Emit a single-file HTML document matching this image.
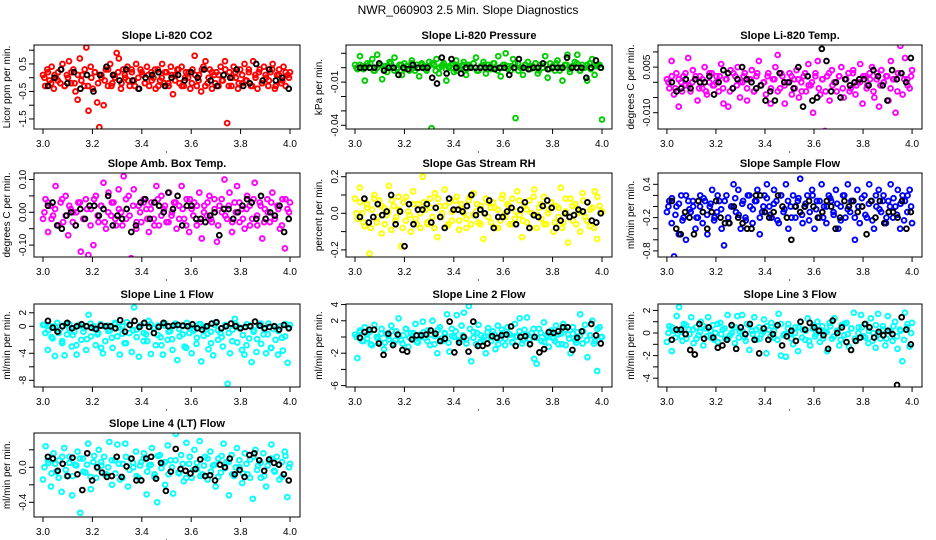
<!DOCTYPE html>
<html><head><meta charset="utf-8"><style>
html,body{margin:0;padding:0;background:#fff;}
svg{display:block;font-family:"Liberation Sans",sans-serif;}
</style></head><body>
<svg id="c" width="936" height="540" viewBox="0 0 936 540" xmlns="http://www.w3.org/2000/svg">
<text x="468" y="14" text-anchor="middle" font-size="12">NWR_060903  2.5 Min. Slope Diagnostics</text>
</svg>
<script>
// ---- data ----
const xTicks = [3.0,3.2,3.4,3.6,3.8,4.0];
const xTickLabels = ["3.0","3.2","3.4","3.6","3.8","4.0"];
const titles = ["Slope Li-820 CO2","Slope Li-820 Pressure","Slope Li-820 Temp.","Slope Amb. Box Temp.","Slope Gas Stream RH","Slope Sample Flow","Slope Line 1 Flow","Slope Line 2 Flow","Slope Line 3 Flow","Slope Line 4 (LT) Flow"];
const yTitles = ["Licor ppm per min.","kPa per min.","degrees C per min.","degrees C per min.","percent per min.","ml/min per min.","ml/min per min.","ml/min per min.","ml/min per min.","ml/min per min."];
const yTicks1 = [1.0,0.5,0,-0.5,-1.0,-1.5];
const yTicks2 = [0.01,0,-0.01,-0.02,-0.03,-0.04];
const yTicks3 = [0.010,0.005,0,-0.005,-0.010];
const yTicks4 = [0.10,0.05,0,-0.05,-0.10];
const yTicks5 = [0.2,0.1,0,-0.1,-0.2];
const yTicks6 = [0.4,0.2,0,-0.2,-0.4,-0.6,-0.8];
const yTicks7 = [2,0,-2,-4,-6,-8];
const yTicks8 = [4,2,0,-2,-4,-6];
const yTicks9 = [2,1,0,-1,-2,-3,-4];
const yTicks10 = [0.2,0,-0.2,-0.4];
const yLabels1 = {"0.5":"0.5","-0.5":"-0.5","-1.5":"-1.5"};
const yLabels2 = {"-0.01":"-0.01","-0.04":"-0.04"};
const yLabels3 = {"0.005":"0.005","-0.01":"-0.010"};
const yLabels4 = {"0.1":"0.10","0":"0.00","-0.1":"-0.10"};
const yLabels5 = {"0.2":"0.2","0":"0.0","-0.2":"-0.2"};
const yLabels6 = {"0.4":"0.4","-0.2":"-0.2","-0.8":"-0.8"};
const yLabels7 = {"2":"2","0":"0","-4":"-4","-8":"-8"};
const yLabels8 = {"4":"4","2":"2","-2":"-2","-6":"-6"};
const yLabels9 = {"2":"2","0":"0","-2":"-2","-4":"-4"};
const yLabels10 = {"0":"0.0","-0.4":"-0.4"};
const yDomains = [[-1.865,1.189],[-0.04257,0.01576],[-0.01536,0.01227],[-0.1363,0.1198],[-0.2388,0.2202],[-0.910,0.604],[-8.99,3.30],[-6.17,4.07],[-4.78,2.57],[-0.568,0.392]];

const co2 = [0.1,-0.3,0.3,-0.1,0.4,-0.4,0.0,0.2,-0.2,0.5,-0.3,0.1,0.6,-0.2,0.3,-0.5,-0.8,0.7,0.1,-0.3,1.1,-1.2,0.4,-0.4,0.2,-0.9,-1.8,0.0,-1.0,0.3,-0.3,0.5,-0.2,0.1,0.9,0.7,-0.4,0.3,0.0,0.4,-0.3,0.2,-0.1,0.5,-0.4,0.3,0.1,-0.2,0.4,-0.3,0.2,0.0,-0.4,0.3,-0.1,0.5,-0.2,0.2,-0.3,0.4,-0.6,0.1,0.3,-0.2,0.4,-0.3,0.2,0.0,-0.4,0.3,0.8,-0.3,0.1,-0.5,0.4,0.6,-0.2,0.3,-0.4,0.1,0.2,-0.3,0.4,-0.1,0.6,-1.65,0.2,-0.3,0.4,0.0,-0.4,0.3,-0.2,0.5,-0.1,0.2,-0.3,0.6,0.1,-0.4,0.3,-0.2,0.4,0.0,-0.3,0.2,0.5,-0.4,0.1,0.3,-0.2,0.4,-0.3,0.1,0.2];
const co2Band = [0.0,0.2,-0.2,0.1,-0.1,0.3,-0.3,0.0,0.2,-0.2,0.1,-0.1,0.3,-0.3,0.0,0.2,-0.2,0.1,-0.1,0.3,-0.3,0.0,0.2,-0.2,0.1,-0.1,0.3,-0.3,0.0,0.2,-0.2,0.1,-0.1,0.3,-0.3,0.0,0.2,-0.2,0.1,-0.1,0.3,-0.3,0.0,0.2,-0.2,0.1,-0.1,0.3,-0.3,0.0,0.2,-0.2,0.1,-0.1,0.3,-0.3,0.0,0.2,-0.2,0.1,-0.1,0.3,-0.3,0.0,0.2,-0.2,0.1,-0.1,0.3,-0.3,0.1,-0.1,0.2,0.0];
const co2Black = [-0.3,0.0,0.3,-0.2,0.2,-0.4,0.1,-0.5,0.1,0.4,0.1,-0.1,0.3,-0.1,-0.4,0.0,0.1,0.2,-0.3,0.0,0.1,-0.1,0.2,0.0,0.3,-0.1,-0.3,0.1,0.0,0.3,-0.3,-0.2,0.5,-0.1,0.3,-0.1,0.0,-0.4];
const pres = [0.002,-0.001,0.008,0.001,-0.009,0.003,0.000,0.006,-0.002,0.009,0.002,-0.008,0.001,-0.003,0.004,0.000,0.007,-0.001,0.002,-0.005,0.003,0.001,-0.002,0.005,0.000,0.002,-0.006,0.003,0.001,-0.002,0.004,-0.042,0.002,0.006,-0.004,0.001,0.003,-0.009,0.000,0.002,-0.003,0.005,0.001,-0.001,0.004,-0.005,0.002,0.000,0.003,0.007,-0.002,0.001,0.004,-0.004,0.002,-0.001,0.003,0.000,0.008,-0.006,0.002,0.010,0.001,-0.002,0.006,-0.035,0.003,0.000,-0.005,0.002,0.004,-0.001,0.001,0.003,-0.004,0.002,0.000,0.008,-0.007,0.003,0.001,-0.002,0.005,0.000,-0.009,0.002,0.009,-0.003,0.001,0.004,0.009,-0.002,0.002,0.000,-0.009,0.003,0.006,-0.005,0.001,0.002,-0.036];
const presBand = [0.000,0.002,-0.001,0.001,0.003,-0.002,0.000,0.002,-0.001,0.001,0.003,-0.002,0.000,0.002,-0.001,0.001,0.003,-0.002,0.000,0.002,-0.001,0.001,0.003,-0.002,0.000,0.002,-0.001,0.001,0.003,-0.002,0.000,0.002,-0.001,0.001,0.003,-0.002,0.000,0.002,-0.001,0.001,0.003,-0.002,0.000,0.002,-0.001,0.001,0.003,-0.002,0.000,0.002,-0.001,0.001,0.003,-0.002,0.000,0.002,-0.001,0.001,0.003,-0.002,0.000,0.002,-0.001,0.001,0.003,-0.002,0.000,0.002,-0.001,0.001,0.002,0.000];
const presBlack = [0,0,0,0,0.003,-0.002,0,0,-0.005,0,-0.001,0.002,0,0,0,-0.007,-0.011,0.007,-0.004,0.006,0,-0.004,0,0,0,0,0,0,-0.001,0,0,-0.005,0,0.006,0,-0.001,0,0,0.003,-0.001,0,0,0,0.007,0,0,0,-0.007,0,0.005,0];
const temp = [0.001,-0.002,0.007,-0.004,0.003,-0.008,0.000,0.002,-0.001,0.008,-0.003,0.004,0.001,-0.006,0.002,-0.002,0.005,-0.004,0.000,0.003,-0.001,0.002,-0.003,0.006,-0.007,0.001,-0.008,0.004,-0.002,0.002,0.005,-0.005,0.000,0.003,-0.006,0.001,0.004,-0.003,0.002,0.007,-0.001,0.000,-0.004,0.003,-0.007,0.001,0.005,0.009,-0.002,0.002,-0.007,0.000,0.003,-0.004,0.001,0.004,-0.005,0.000,0.002,-0.003,0.006,-0.001,-0.010,0.003,0.007,-0.004,0.001,-0.016,0.002,-0.006,0.004,0.000,-0.003,0.002,0.005,-0.005,0.001,0.003,-0.002,0.004,-0.004,0.000,0.006,-0.007,0.002,-0.001,0.003,0.005,-0.005,0.001,-0.008,0.004,0.000,0.002,-0.006,0.007,0.001,-0.010,0.003,0.012,-0.004,0.008,0.001,-0.002,0.004];
const tempBand = [0.000,0.002,-0.002,0.001,-0.003,0.003,-0.001,0.000,0.002,-0.002,0.001,-0.003,0.003,-0.001,0.000,0.002,-0.002,0.001,-0.003,0.003,-0.001,0.000,0.002,-0.002,0.001,-0.003,0.003,-0.001,0.000,0.002,-0.002,0.001,-0.003,0.003,-0.001,0.000,0.002,-0.002,0.001,-0.003,0.003,-0.001,0.000,0.002,-0.002,0.001,-0.003,0.003,-0.001,0.000,0.002,-0.002,0.001,-0.003,0.003,-0.001,0.000,0.002,-0.002,0.001,-0.003,0.003,-0.001,0.000,0.002,-0.002,0.001,-0.003,0.003,0.001,-0.001,0.002];
const tempBlack = [0.000,-0.003,-0.002,0.001,-0.002,0.001,0.000,0.000,0.002,-0.004,0.000,0.004,0.003,-0.002,0.001,0.005,0.001,0.000,-0.002,-0.001,-0.006,-0.003,-0.006,0.003,0.000,0.000,-0.002,0.005,-0.008,0.002,-0.006,-0.005,0.011,0.007,-0.003,0.000,-0.005,0.001,-0.001,0.000,0.001,0.001,-0.001,0.004,0.002,-0.001,-0.006,0.004,0.001,0.003,0.000,0.008];
const amb = [-0.02,0.04,-0.06,0.02,-0.01,0.08,-0.04,0.03,-0.03,0.05,-0.07,0.01,0.00,-0.04,0.03,-0.12,-0.02,0.04,-0.13,0.01,-0.10,0.05,-0.03,0.02,0.09,-0.05,0.06,-0.01,0.03,-0.04,0.07,0.00,0.11,-0.02,0.05,-0.14,0.07,-0.05,0.02,-0.03,0.04,0.01,-0.06,0.03,-0.02,0.08,-0.04,0.05,0.01,-0.03,0.06,-0.01,0.03,-0.05,0.02,0.08,-0.02,0.04,-0.06,0.01,0.03,-0.04,0.06,-0.08,0.02,-0.01,0.05,-0.03,0.04,-0.09,0.02,0.00,0.10,-0.02,0.06,-0.06,0.03,0.08,-0.03,0.01,-0.05,0.05,0.02,-0.02,0.09,-0.04,0.03,-0.08,0.01,0.04,-0.03,0.06,-0.01,0.02,-0.05,0.04,-0.11,0.01,0.03];
const ambBand = [0.00,0.03,-0.02,0.01,-0.04,0.04,-0.01,0.02,-0.03,0.00,0.03,-0.02,0.01,-0.04,0.04,-0.01,0.02,-0.03,0.00,0.03,-0.02,0.01,-0.04,0.04,-0.01,0.02,-0.03,0.00,0.03,-0.02,0.01,-0.04,0.04,-0.01,0.02,-0.03,0.00,0.03,-0.02,0.01,-0.04,0.04,-0.01,0.02,-0.03,0.00,0.03,-0.02,0.01,-0.04,0.04,-0.01,0.02,-0.03,0.00,0.03,-0.02,0.01,-0.04,0.04,-0.01,0.02,-0.03,0.00,0.03,-0.02,0.01,-0.04,0.04,0.00];
const ambBlack = [0.02,0.03,-0.04,-0.05,-0.01,0.00,-0.04,0.01,-0.02,0.02,0.02,-0.01,0.01,0.05,-0.04,-0.01,-0.02,0.01,-0.06,-0.04,0.03,0.04,-0.02,0.03,0.02,0.00,0.06,0.01,0.05,-0.04,0.02,0.02,-0.02,-0.02,-0.03,-0.01,0.00,-0.07,0.01,0.01,-0.02,0.00,0.02,0.04,0.03,-0.02,0.05,-0.02,0.00,-0.01,0.02,-0.06,-0.02];
const rh = [0.08,-0.03,0.14,0.00,-0.07,0.05,-0.22,0.02,0.10,-0.05,0.07,-0.11,0.03,-0.01,0.15,-0.09,0.04,-0.02,0.09,-0.18,0.06,-0.04,0.01,-0.10,0.12,-0.03,0.05,-0.08,0.20,0.02,-0.06,0.08,-0.02,0.11,-0.13,0.04,0.00,0.13,-0.07,0.06,-0.04,0.02,0.09,-0.09,0.05,0.00,-0.03,0.07,-0.06,0.11,0.01,-0.05,0.04,-0.14,0.08,-0.02,0.03,0.06,-0.08,0.02,-0.04,0.10,0.00,0.05,-0.06,0.08,-0.03,0.12,-0.01,-0.13,0.04,-0.05,0.07,0.00,0.13,-0.08,0.03,-0.03,0.09,-0.06,0.02,0.06,-0.10,0.04,-0.02,0.14,-0.05,0.01,-0.16,0.08,-0.04,0.05,0.00,-0.10,0.11,-0.02,0.06,-0.07,0.03,0.12,-0.14,0.04,0.01];
const rhBand = [0.00,0.06,-0.05,0.03,-0.08,0.08,-0.02,0.04,-0.06,0.01,0.07,-0.04,0.02,-0.08,0.09,-0.01,0.05,-0.06,0.00,0.06,-0.05,0.03,-0.08,0.08,-0.02,0.04,-0.06,0.01,0.07,-0.04,0.02,-0.08,0.09,-0.01,0.05,-0.06,0.00,0.06,-0.05,0.03,-0.08,0.08,-0.02,0.04,-0.06,0.01,0.07,-0.04,0.02,-0.08,0.09,-0.01,0.05,-0.06,0.00,0.06,-0.05,0.03,-0.08,0.08,-0.02,0.04,-0.06,0.01,0.07,-0.04,0.02,-0.08,0.09,0.00];
const rhBlack = [-0.02,0.08,-0.05,-0.02,0.05,-0.01,0.01,0.10,-0.06,0.01,-0.18,0.05,-0.06,0.02,0.02,0.05,-0.05,0.03,-0.02,-0.08,0.08,0.02,0.02,0.01,0.04,0.10,-0.01,0.02,0.00,0.07,-0.08,-0.02,-0.02,0.01,0.03,-0.06,0.02,0.06,-0.08,-0.01,-0.02,0.04,0.07,0.03,-0.08,-0.04,0.00,-0.02,-0.01,0.02,0.01,0.06,-0.04,-0.05,0.00];
const sflow = [-0.1,0.1,-0.3,-0.9,0.0,-0.5,0.2,-0.2,-0.6,0.1,-0.1,0.0,-0.4,-0.2,0.2,-0.3,0.1,-0.5,0.0,0.3,-0.2,-0.1,0.1,-0.4,-0.7,0.2,-0.3,0.0,0.4,-0.1,0.3,-0.4,0.1,-0.2,0.2,0.0,-0.3,0.1,0.3,-0.5,-0.1,0.2,0.4,0.0,-0.2,0.3,0.1,-0.3,0.2,-0.1,0.4,-0.4,0.0,0.2,-0.2,0.1,0.5,-0.3,0.0,0.2,-0.1,0.3,-0.4,0.1,-0.2,0.4,0.0,-0.3,0.2,0.1,-0.1,0.3,-0.4,0.0,0.2,-0.2,0.4,-0.1,0.1,-0.6,0.3,-0.3,0.0,0.2,-0.2,0.4,0.1,-0.4,0.0,0.3,-0.1,0.2,-0.3,0.1,0.4,-0.2,0.0,0.3,-0.4,0.2,0.1,-0.1,0.3,-0.3];
const sflowBand = [0.0,0.15,-0.15,0.05,-0.25,0.2,-0.05,0.1,-0.2,0.0,0.15,-0.15,0.05,-0.25,0.2,-0.05,0.1,-0.2,0.0,0.15,-0.15,0.05,-0.25,0.2,-0.05,0.1,-0.2,0.0,0.15,-0.15,0.05,-0.25,0.2,-0.05,0.1,-0.2,0.0,0.15,-0.15,0.05,-0.25,0.2,-0.05,0.1,-0.2,0.0,0.15,-0.15,0.05,-0.25,0.2,-0.05,0.1,-0.2,0.0,0.15,-0.15,0.05,-0.25,0.2,-0.05,0.1,-0.2,0.0,0.15,-0.15,0.05,-0.25,0.2,0.0];
const sflowBlack = [0.1,-0.4,-0.5,-0.1,-0.2,-0.5,0.1,-0.1,-0.4,-0.1,0.1,-0.2,-0.3,-0.3,0.0,-0.2,-0.3,-0.4,-0.4,0.2,0.2,-0.1,-0.2,-0.1,0.2,0.0,-0.2,-0.6,0.0,-0.1,0.0,0.1,0.0,-0.2,-0.1,0.1,0.0,-0.4,-0.2,0.1,0.0,0.1,-0.1,0.0,-0.5,0.1,-0.2,0.1,-0.3,-0.1,-0.1,-0.2,0.1,-0.4,-0.1];
const line1 = [0.2,-1.0,-3.5,0.0,-1.8,-4.4,0.5,-0.5,-2.5,-4.3,-1.2,0.3,-3.0,-0.8,-4.2,0.2,-2.0,-0.3,-3.5,1.7,-1.5,0.0,-2.8,-1.0,0.3,-4.0,-2.2,0.1,-0.6,-3.2,0.5,-1.5,-4.2,0.0,-2.5,0.6,-1.0,-3.8,2.8,-0.5,-4.5,0.2,-2.2,-1.2,0.8,-4.1,-0.3,-2.8,0.1,-1.6,-4.2,0.4,-2.0,-0.7,-3.5,0.2,-5.0,-1.5,0.0,-3.0,0.5,-1.0,-4.0,-0.4,-2.6,0.3,-5.2,-1.4,0.0,-3.4,-0.8,-4.3,0.6,-2.0,-1.0,-3.0,0.2,-8.5,-4.0,-0.5,1.1,-2.4,-0.2,-3.5,-4.2,0.3,-1.8,-5.3,-0.6,-3.8,0.1,-2.6,-1.2,-4.0,0.4,-3.2,-0.4,-2.0,-4.2,0.0,-3.6,-1.5,-5.4,0.2];
const line1Band = [0.2,-0.6,-1.6,0.0,-1.0,-2.2,0.3,-0.3,-1.3,-2.8,0.1,-0.8,-1.9,0.4,-0.4,-1.2,-3.2,0.0,-0.7,-1.7,0.3,-0.2,-1.1,-2.5,0.2,-0.6,-1.6,0.0,-1.0,-2.2,0.3,-0.3,-1.3,-2.8,0.1,-0.8,-1.9,0.4,-0.4,-1.2,-3.2,0.0,-0.7,-1.7,0.3,-0.2,-1.1,-2.5,0.2,-0.6,-1.6,0.0,-1.0,-2.2,0.3,-0.3,-1.3,-2.8,0.1,-0.8,-1.9,0.4,-0.4,-1.2,-3.2,0.0,-0.7,-1.7,0.3,-0.2];
const line1Black = [0.8,-0.2,-0.8,0.0,0.5,-0.3,0.0,0.3,0.0,-0.2,-0.4,0.1,0.0,0.0,-0.3,0.9,-0.8,0.2,0.8,-0.1,0.5,-0.1,-1.0,-0.1,0.5,0.0,0.1,0.2,0.1,0.0,0.3,-0.3,-0.5,0.0,0.4,0.6,-0.3,0.0,0.4,0.0,-0.3,-0.1,0.0,0.7,0.1,-0.3,-0.1,0.0,-0.5,0.2,-0.3];
const line2 = [0.3,-2.6,0.8,-0.5,1.2,-0.2,0.6,-1.0,1.5,0.0,-0.6,1.0,-1.5,0.4,-0.3,1.4,-0.8,0.7,2.3,-0.4,0.2,1.0,-1.2,0.5,-0.2,1.6,-0.7,0.3,1.9,-0.1,0.8,-1.0,2.0,0.1,-2.0,1.2,-0.5,0.5,2.8,-1.8,1.0,0.0,2.7,-0.6,1.4,3.0,-0.3,3.8,-3.0,0.6,-0.9,1.5,0.2,-0.4,-2.0,1.1,0.0,0.7,-1.5,1.4,-0.2,0.5,-1.0,1.2,0.3,-0.6,1.6,0.0,2.3,-0.8,0.9,2.4,-0.3,0.5,-2.7,-3.3,1.0,-0.5,1.8,0.2,-1.2,0.8,-0.2,1.4,-0.9,0.4,1.6,-1.0,0.3,-2.0,1.2,-0.4,0.6,2.8,-0.8,1.5,-2.5,0.2,2.0,-0.5,-4.2,1.2,0.0];
const line2Band = [0.0,0.6,-0.5,0.3,-0.9,0.9,-0.2,0.4,-0.7,0.1,0.7,-0.4,0.2,-0.8,1.0,-0.1,0.5,-0.6,0.0,0.6,-0.5,0.3,-0.9,0.9,-0.2,0.4,-0.7,0.1,0.7,-0.4,0.2,-0.8,1.0,-0.1,0.5,-0.6,0.0,0.6,-0.5,0.3,-0.9,0.9,-0.2,0.4,-0.7,0.1,0.7,-0.4,0.2,-0.8,1.0,-0.1,0.5,-0.6,0.0,0.6,-0.5,0.3,-0.9,0.9,-0.2,0.4,-0.7,0.1,0.7,-0.4,0.2,-0.8,1.0,0.0];
const line2Black = [-0.1,0.6,0.9,0.9,-0.8,-2.2,0.4,-1.0,0.3,-1.6,-1.8,-0.3,0.2,0.2,0.3,0.8,0.4,-0.5,-0.2,1.9,-1.9,-0.7,0.0,-1.8,1.9,-1.1,-1.1,-0.8,0.1,-0.1,0.2,0.3,1.3,-1.1,0.0,0.1,-0.9,0.0,-1.9,-1.5,0.6,0.5,0.7,1.2,1.2,-1.6,-0.1,0.7,-7.8,1.6,0.2,-0.8];
const line3 = [-0.8,0.6,-1.6,0.2,1.5,2.3,-0.3,0.8,-0.5,0.3,1.4,-0.9,0.5,-0.2,1.0,-1.1,0.4,1.4,-0.4,0.7,0.0,-0.8,0.9,0.3,-0.5,1.6,-0.2,0.6,-0.9,1.5,0.1,1.6,-0.4,0.8,-1.5,0.2,1.4,-0.6,0.5,-0.1,1.2,-1.8,0.3,0.9,-0.4,0.6,1.7,-2.0,-0.2,-2.1,0.8,0.0,-1.0,0.5,-1.6,1.0,0.3,-0.6,1.3,-1.1,0.4,-0.3,1.0,-0.8,0.6,0.1,-1.6,0.9,-0.5,1.3,0.2,-1.1,0.7,-0.2,0.9,-1.2,0.4,1.8,-0.7,0.5,1.6,-0.3,0.8,-0.9,1.3,0.0,-1.3,1.7,-0.5,0.6,-1.1,1.5,0.2,-0.7,1.0,-1.4,0.3,-2.5,1.8,0.5,-1.2,0.9];
const line3Band = [0.0,0.5,-0.4,0.2,-0.7,0.7,-0.1,0.3,-0.5,0.1,0.6,-0.3,0.2,-0.6,0.8,-0.1,0.4,-0.5,0.0,0.5,-0.4,0.2,-0.7,0.7,-0.1,0.3,-0.5,0.1,0.6,-0.3,0.2,-0.6,0.8,-0.1,0.4,-0.5,0.0,0.5,-0.4,0.2,-0.7,0.7,-0.1,0.3,-0.5,0.1,0.6,-0.3,0.2,-0.6,0.8,-0.1,0.4,-0.5,0.0,0.5,-0.4,0.2,-0.7,0.7,-0.1,0.3,-0.5,0.1,0.6,-0.3,0.2,-0.6,0.8,0.0];
const line3Black = [-0.6,0.3,0.3,-0.1,-1.5,-1.9,0.8,-0.5,0.5,-0.4,-1.3,-1.1,-0.6,0.7,-1.4,0.5,-0.1,0.8,-0.6,-1.8,0.4,-0.6,-0.1,0.7,-1.1,-0.3,0.2,-0.7,1.0,0.3,0.9,0.5,0.2,-0.2,-1.4,1.1,0.0,0.5,-0.8,-1.5,-0.7,-0.4,0.8,0.5,-0.4,0.1,-0.2,0.2,-0.1,-4.6,1.4,0.3,-1.0];
const line4 = [-0.14,0.24,0.05,-0.22,0.16,-0.05,0.08,-0.28,0.22,-0.10,0.12,-0.32,0.03,0.18,-0.52,0.10,-0.06,0.27,-0.25,0.06,-0.12,0.20,0.02,0.12,-0.08,0.29,-0.20,0.08,0.26,-0.14,0.04,0.27,-0.22,0.10,0.00,0.18,-0.12,0.06,0.16,-0.31,0.02,0.22,-0.08,-0.40,0.14,0.04,-0.20,0.25,0.08,-0.30,0.38,-0.06,0.14,-0.16,0.28,0.04,-0.12,0.20,-0.02,0.30,-0.08,0.12,-0.14,0.18,0.02,-0.22,0.10,-0.06,0.27,0.06,-0.32,0.14,-0.10,0.22,0.00,-0.18,0.16,-0.08,0.09,-0.36,0.20,0.02,-0.12,0.16,-0.22,0.08,0.26,-0.04,0.12,-0.14,0.06,0.18,-0.34,0.04];
const line4Band = [0.00,0.08,-0.07,0.04,-0.12,0.12,-0.03,0.05,-0.10,0.02,0.10,-0.05,0.03,-0.11,0.13,-0.01,0.06,-0.08,0.00,0.08,-0.07,0.04,-0.12,0.12,-0.03,0.05,-0.10,0.02,0.10,-0.05,0.03,-0.11,0.13,-0.01,0.06,-0.08,0.00,0.08,-0.07,0.04,-0.12,0.12,-0.03,0.05,-0.10,0.02,0.10,-0.05,0.03,-0.11,0.13,-0.01,0.06,-0.08,0.00,0.08,-0.07,0.04,-0.12,0.12,-0.03,0.05,-0.10,0.02,0.10,-0.05,0.03,-0.11,0.13,0.00];
const line4Black = [0.12,0.10,-0.04,0.04,-0.10,0.11,-0.08,-0.26,0.16,-0.15,0.00,-0.06,-0.11,-0.10,0.12,-0.11,0.01,0.10,-0.15,-0.15,0.10,0.12,-0.13,0.05,-0.27,-0.05,0.21,-0.02,-0.04,-0.07,-0.02,0.09,-0.10,-0.09,-0.15,0.03,0.00,0.10,-0.08,-0.03,-0.11,0.14,0.16,0.08,-0.04,0.09,0.05,0.03,-0.08,-0.15];

// ---- layout ----
const NS = "http://www.w3.org/2000/svg";
const svg = document.getElementById('c');
const colL = [34,346,658], colR = [300,612,922];
const rowT = [45,173,304,433], rowB = [129,257,387,517];
const xDomain = [2.9636,4.0405];
const colors = ["#ff0000","#00cd00","#ff00ff","#ff00ff","#ffff00","#0000ff","#00ffff","#00ffff","#00ffff","#00ffff"];
const series = [co2,pres,temp,amb,rh,sflow,line1,line2,line3,line4];
const bands = [co2Band,presBand,tempBand,ambBand,rhBand,sflowBand,line1Band,line2Band,line3Band,line4Band];
const blacks = [co2Black,presBlack,tempBlack,ambBlack,rhBlack,sflowBlack,line1Black,line2Black,line3Black,line4Black];
const yTickSets = [yTicks1,yTicks2,yTicks3,yTicks4,yTicks5,yTicks6,yTicks7,yTicks8,yTicks9,yTicks10];
const yLabelSets = [yLabels1,yLabels2,yLabels3,yLabels4,yLabels5,yLabels6,yLabels7,yLabels8,yLabels9,yLabels10];

function mk(tag, attrs, parent){
  const e = document.createElementNS(NS, tag);
  for (const k in attrs) e.setAttribute(k, attrs[k]);
  (parent||svg).appendChild(e);
  return e;
}
function key(v){ return String(Math.round(v*100000)/100000); }

for (let p=0; p<10; p++){
  const col = p%3, row = Math.floor(p/3);
  const L=colL[col], R=colR[col], T=rowT[row], B=rowB[row];
  const dom = yDomains[p];
  const sx = v => L + (v - xDomain[0])/(xDomain[1]-xDomain[0])*(R-L);
  const sy = v => B - (v - dom[0])/(dom[1]-dom[0])*(B-T);
  const g = mk('g',{});
  
  
  const clipId = 'clip'+p;
  const cp = mk('clipPath',{id:clipId}, g);
  mk('rect',{x:L,y:T,width:R-L,height:B-T},cp);

  const t = mk('text',{x:(L+R)/2,y:T-6,'text-anchor':'middle','font-size':'11','font-weight':'bold'},g);
  t.textContent = titles[p];
  
  

  const yt = mk('text',{x:0,y:0,'text-anchor':'middle','font-size':'10',transform:`translate(${L-24},${(T+B)/2}) rotate(-90)`},g);
  yt.textContent = yTitles[p];
  
  

  // points
  const pg = mk('g',{'clip-path':`url(#${clipId})`,fill:'none'},g);
  
  
  const s = series[p];
  s.forEach((v,i)=>{
    const c = mk('circle',{cx:sx(3+i/(s.length-1)),cy:sy(v),r:2.4,stroke:colors[p],'stroke-width':1.9},pg);
    
    
  });
  const bd = bands[p];
  bd.forEach((v,i)=>{
    const c = mk('circle',{cx:sx(3.006+0.99*i/(bd.length-1)),cy:sy(v),r:2.4,stroke:colors[p],'stroke-width':1.9},pg);
    
    
  });
  const b = blacks[p];
  b.forEach((v,i)=>{
    const c = mk('circle',{cx:sx(3.02+0.975*i/(b.length-1)),cy:sy(v),r:2.4,stroke:'#000','stroke-width':1.9},pg);
    
    
  });

  // box
  const bx = mk('rect',{x:L,y:T,width:R-L,height:B-T,fill:'none',stroke:'#000','stroke-width':1},g);
  
  

  // x axis
  const xa = mk('g',{},g);
  
  
  mk('line',{x1:sx(xTicks[0]),x2:sx(xTicks[xTicks.length-1]),y1:B,y2:B,stroke:'#000'},xa);
  xTicks.forEach((v,i)=>{
    mk('line',{x1:sx(v),x2:sx(v),y1:B,y2:B+5,stroke:'#000'},xa);
    const tx = mk('text',{x:sx(v),y:B+18,'text-anchor':'middle','font-size':'10'},xa);
    tx.textContent = xTickLabels[i];
    
    
  });
  mk('circle',{cx:sx(3.5),cy:B+23,r:0.6,fill:'#000'},xa);

  // y axis
  const ya = mk('g',{},g);
  
  
  const yts = yTickSets[p];
  mk('line',{x1:L,x2:L,y1:sy(yts[0]),y2:sy(yts[yts.length-1]),stroke:'#000'},ya);
  yts.forEach(v=>{
    mk('line',{x1:L-5,x2:L,y1:sy(v),y2:sy(v),stroke:'#000'},ya);
    const lab = yLabelSets[p][key(v)];
    if (lab !== undefined){
      const ty = mk('text',{x:0,y:0,'text-anchor':'middle','font-size':'10',transform:`translate(${L-8},${sy(v)}) rotate(-90)`},ya);
      ty.textContent = lab;
      
      
    }
  });
}
</script>
</body></html>
